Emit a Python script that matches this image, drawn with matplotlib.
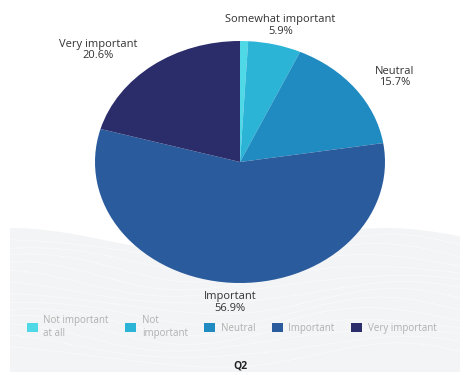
import numpy as np
import matplotlib
matplotlib.use("Agg")
import matplotlib.pyplot as plt
from matplotlib.patches import Patch, Polygon

plt.rcParams['font.family'] = ['Open Sans', 'DejaVu Sans']

# Q2 answers, in pie order (clockwise from 12 o'clock)
legend_names = ["Not important\nat all", "Not\nimportant", "Neutral", "Important", "Very important"]
slice_labels = ["", "Somewhat important", "Neutral", "Important", "Very important"]
shares = [0.9, 5.9, 15.7, 56.9, 20.6]
colors = ["#4fd8e6", "#2bb4d6", "#1f8bc1", "#2a5c9d", "#2b2c6a"]

fig = plt.figure(figsize=(4.68, 3.75), dpi=100)
fig.patch.set_facecolor("white")

# soft grey wave band behind the lower half
bg = fig.add_axes([0, 0, 1, 1], zorder=0)
bg.set_xlim(0, 468)
bg.set_ylim(375, 0)
bg.axis("off")
wx = np.linspace(10, 460, 200)
wy = 240 - 12 * np.cos((wx - 10) / 450 * 2 * np.pi * 1.2)
band = np.column_stack([np.r_[wx, 460, 10], np.r_[wy, 372, 372]])
bg.add_patch(Polygon(band, closed=True, facecolor="#f3f4f5", edgecolor="none"))
for k in range(1, 14):
    bg.plot(wx, wy + k * 9 + 3 * np.sin(wx / 40 + k), color="white", lw=0.5, alpha=0.6)

# elliptical pie: stretch a unit pie over a wider-than-tall axes box
ax = fig.add_axes([95 / 468, 92 / 375, 290 / 468, 242 / 375], zorder=1)
wedges, _ = ax.pie(shares, colors=colors, startangle=90, counterclock=False,
                   wedgeprops=dict(linewidth=0))
ax.set_aspect("auto")
ax.set_xlim(-1, 1)
ax.set_ylim(-1, 1)

total = sum(shares)
for w, name, val in zip(wedges, slice_labels, shares):
    if not name:
        continue
    mid = np.deg2rad((w.theta1 + w.theta2) / 2)
    cx, cy = np.cos(mid), np.sin(mid)
    if abs(cx) < 0.4:
        ha = "center"
    else:
        ha = "left" if cx > 0 else "right"
    ax.text(1.17 * cx, 1.16 * cy, f"{name}\n{val / total * 100:.1f}%",
            ha=ha, va="center", multialignment="center",
            fontsize=8, color="#333333", linespacing=1.1, clip_on=False)

handles = [Patch(facecolor=c, edgecolor="none") for c in colors]
fig.legend(handles, legend_names, loc="center", bbox_to_anchor=(0.495, 1 - 327 / 375),
           ncol=5, frameon=False, fontsize=7, labelcolor="#b0b0b0",
           handlelength=1.1, handleheight=1.1, handletextpad=0.6, columnspacing=1.7)

fig.text(240 / 468, 1 - 366 / 375, "Q2", ha="center", va="center",
         fontsize=7.5, fontweight="bold", color="#222222")

fig.savefig("out.png", dpi=100)
